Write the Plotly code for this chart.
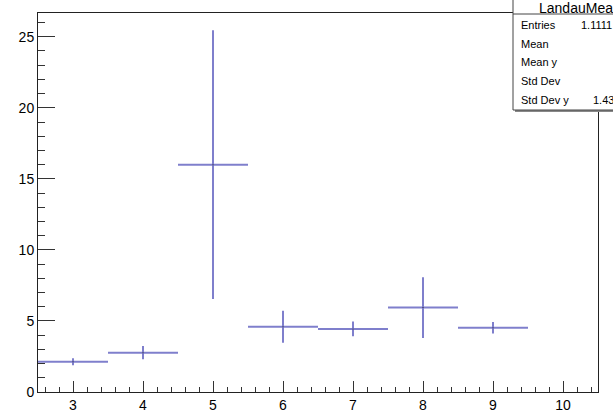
import plotly.graph_objects as go

# Data
bin_centers = [3, 4, 5, 6, 7, 8, 9]
bin_half_width = [0.5, 0.5, 0.5, 0.5, 0.5, 0.5, 0.5]
values = [2.13, 2.77, 16.0, 4.59, 4.44, 5.94, 4.52]
errors = [0.25, 0.46, 9.45, 1.12, 0.52, 2.14, 0.41]

stat_labels = ["Entries", "Mean", "Mean y", "Std Dev", "Std Dev y"]
stat_values = ["1.1111", "", "", "", "1.43"]
stat_title = "LandauMea"

W, H = 613, 418
L, R, T, B = 38, 598, 13, 392
FONT = "Liberation Sans, Arial, Helvetica, sans-serif"
BLUE = "rgb(127,127,204)"


def px(x):
    return (x - L) / (R - L)


def py(y):
    return (B - y) / (B - T)


fig = go.Figure()
fig.add_trace(go.Scatter(
    x=bin_centers, y=values, mode="markers",
    marker=dict(size=1, color="black"),
    error_x=dict(type="data", array=bin_half_width, color=BLUE, thickness=2, width=0),
    error_y=dict(type="data", array=errors, color=BLUE, thickness=2, width=0),
    showlegend=False, hoverinfo="skip",
))

axis_common = dict(
    showgrid=False, zeroline=False, showline=True, linecolor="#222", linewidth=1,
    mirror=True, ticks="inside", tickcolor="#333", automargin=False,
    tickfont=dict(family=FONT, size=14, color="black"),
)
fig.update_xaxes(range=[2.5, 10.5], dtick=1, tick0=0, ticklen=11, tickwidth=1,
                 minor=dict(ticks="inside", dtick=0.2, tick0=0, ticklen=5, tickcolor="#333"),
                 **axis_common)
fig.update_yaxes(range=[0, 26.67], dtick=5, tick0=0, ticklen=17, tickwidth=1,
                 minor=dict(ticks="inside", dtick=1, tick0=0, ticklen=7, tickcolor="#333"),
                 **axis_common)

shapes = []
# stats box shadow
shapes.append(dict(type="rect", xref="paper", yref="paper",
                   x0=px(515), x1=px(620), y0=py(112), y1=py(2),
                   line=dict(width=0), fillcolor="#888", layer="above"))
# stats box
shapes.append(dict(type="rect", xref="paper", yref="paper",
                   x0=px(513), x1=px(618), y0=py(110), y1=py(-1),
                   line=dict(color="#444", width=1), fillcolor="white", layer="above"))
# title separator
shapes.append(dict(type="line", xref="paper", yref="paper",
                   x0=px(513), x1=px(618), y0=py(14), y1=py(14),
                   line=dict(color="#444", width=1), layer="above"))

annotations = [dict(xref="paper", yref="paper", x=px(537), y=py(8), text=stat_title,
                    showarrow=False, xanchor="left", yanchor="middle",
                    font=dict(family=FONT, size=14, color="black"))]
row_y = [25, 44, 62, 81, 100]
val_x = [579, 591, 591, 591, 591]
for lab, val, ry, vx in zip(stat_labels, stat_values, row_y, val_x):
    annotations.append(dict(xref="paper", yref="paper", x=px(519), y=py(ry), text=lab,
                            showarrow=False, xanchor="left", yanchor="middle",
                            font=dict(family=FONT, size=11, color="black")))
    if val:
        annotations.append(dict(xref="paper", yref="paper", x=px(vx), y=py(ry), text=val,
                                showarrow=False, xanchor="left", yanchor="middle",
                                font=dict(family=FONT, size=11, color="black")))

fig.update_layout(
    width=W, height=H,
    margin=dict(l=L, r=W - R, t=T, b=H - B, pad=0, autoexpand=False),
    paper_bgcolor="white", plot_bgcolor="white",
    shapes=shapes, annotations=annotations,
)
fig.write_html(
    "out.html",
    config={"displayModeBar": False},
    post_script="document.body.style.margin='0';document.body.style.padding='0';"
                "document.body.style.overflow='hidden';",
)
